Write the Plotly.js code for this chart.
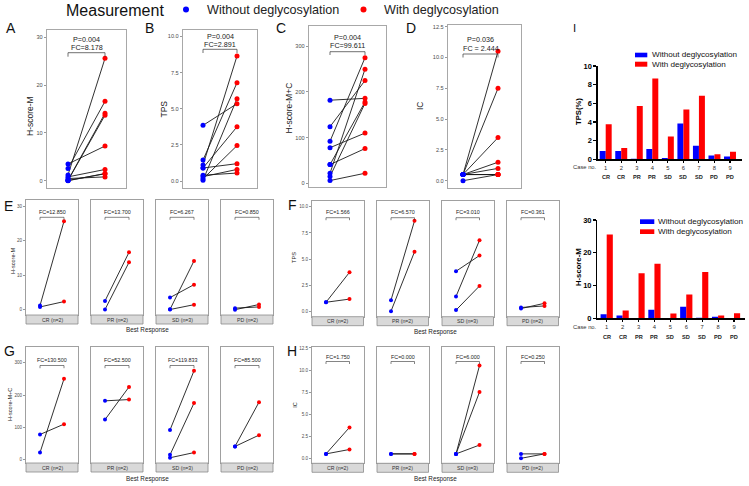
<!DOCTYPE html>
<html><head><meta charset="utf-8">
<script src="https://cdn.plot.ly/plotly-3.0.1.min.js"></script>
<style>html,body{margin:0;padding:0;background:#fff}#chart{width:749px;height:486px}</style>
</head><body><div id="chart"></div>
<script>
// ---------- data ----------
const caseNo = [1,2,3,4,5,6,7,8,9];
const response = ['CR','CR','PR','PR','SD','SD','SD','PD','PD'];
const hscoreM_without = [1.2,0.8,0.05,2.55,0.05,3.5,0.1,0.45,0.0];
const hscoreM_with    = [25.6,2.35,13.7,16.6,1.45,7.25,14.1,0.8,1.5];
const tps_without = [0.9,0.9,0.05,1.1,0.15,3.85,1.45,0.4,0.3];
const tps_with    = [3.75,1.2,5.7,8.65,2.45,5.35,6.8,0.55,0.8];
const hmc_without = [22,78,124,182,6,92,15,41,41];
const hmc_with    = [250,110,225,186,22,275,175,178,76];
const ic_without = [0.5,0.5,0.5,0.5,0.5,0.5,0.5,0.5,0.0];
const ic_with    = [3.5,1.0,0.5,0.5,1.5,10.5,7.5,0.5,0.5];
const groups = ['CR','PR','SD','PD'];
const overallP  = ['P=0.004','P=0.004','P=0.004','P=0.036'];
const overallFC = ['FC=8.178','FC=2.891','FC=99.611','FC = 2.444'];
const fcHM  = ['FC=12.850','FC=13.700','FC=6.267','FC=0.850'];
const fcTPS = ['FC=1.566','FC=6.570','FC=3.010','FC=0.361'];
const fcHMC = ['FC=130.500','FC=52.500','FC=119.833','FC=85.500'];
const fcIC  = ['FC=1.750','FC=0.000','FC=6.000','FC=0.250'];
const legendLabels = ['Without deglycosylation','With deglycosylation'];

// ---------- helpers ----------
const W=749,H=486;
const X=p=>p/W, Y=p=>1-p/H;
const BLUE='#0000ff', RED='#ff0000', FONT='Liberation Sans, Arial, sans-serif';
const layout={width:W,height:H,margin:{l:0,r:0,t:0,b:0},paper_bgcolor:'#fff',plot_bgcolor:'rgba(0,0,0,0)',
  showlegend:false,barmode:'group',bargap:0.23,bargroupgap:0,font:{family:FONT,color:'#222'},shapes:[],annotations:[]};
const data=[];
let n=0;
function rangeFrom(vA,pA,vB,pB,p0,p1){const k=(vB-vA)/(pB-pA);return [vA+(p0-pA)*k,vA+(p1-pA)*k];}
function txt(text,px,py,size,o){layout.annotations.push(Object.assign({text,x:X(px),y:Y(py),xref:'paper',yref:'paper',
  showarrow:false,font:{size,color:'#222',family:FONT},xanchor:'center',yanchor:'middle',borderpad:0},o||{}));}

function addPair(box,yA,yB,xpts,dtick,fmt,tickSize,wo,wi,msize,lw,bc){
  n++; const s=n===1?'':String(n); const xref='x'+s, yref='y'+s;
  const yr=rangeFrom(yA[0],yA[1],yB[0],yB[1],box.b,box.t);
  const xr=rangeFrom(1,xpts[0],2,xpts[1],box.l,box.r);
  layout['xaxis'+s]={domain:[X(box.l),X(box.r)],range:xr,anchor:yref,showline:true,mirror:true,linecolor:bc,linewidth:lw,
    showgrid:false,zeroline:false,showticklabels:false,ticks:'',fixedrange:true};
  layout['yaxis'+s]={domain:[Y(box.b),Y(box.t)],range:yr,anchor:xref,showline:true,mirror:true,linecolor:bc,linewidth:lw,
    showgrid:false,zeroline:false,ticks:'outside',ticklen:2,tickwidth:0.6,tickcolor:'#555',tick0:0,dtick,tickformat:fmt,
    tickfont:{size:tickSize,color:'#4d4d4d',family:FONT},fixedrange:true};
  const x=[],y=[],c=[];
  wo.forEach((v,i)=>{x.push(1,2,null);y.push(v,wi[i],null);c.push(BLUE,RED,RED);});
  data.push({type:'scatter',mode:'lines+markers',x,y,xaxis:xref,yaxis:yref,line:{color:'#1a1a1a',width:0.9},
    marker:{color:c,size:msize},cliponaxis:false,hoverinfo:'skip',showlegend:false});
  return {xref,yref,s};
}
function bracket(xref,yBar,yTick,w){
  layout.shapes.push({type:'path',xref,yref:'paper',path:`M1,${Y(yTick)} L1,${Y(yBar)} L2,${Y(yBar)} L2,${Y(yTick)}`,
    line:{color:'#333',width:w}});
}

// ---------- top legend ----------
txt('Measurement',115,10,16,{font:{size:16,color:'#111',family:FONT}});
layout.shapes.push({type:'circle',xref:'paper',yref:'paper',x0:X(183),x1:X(189),y0:Y(12.5),y1:Y(6.5),fillcolor:BLUE,line:{width:0}});
layout.shapes.push({type:'circle',xref:'paper',yref:'paper',x0:X(360.5),x1:X(366.5),y0:Y(12.5),y1:Y(6.5),fillcolor:RED,line:{width:0}});
txt(legendLabels[0],206,10,12.6,{xanchor:'left'});
txt(legendLabels[1],383,10,12.6,{xanchor:'left'});

// ---------- A-D ----------
const topPanels=[
 {wo:hscoreM_without,wi:hscoreM_with,box:{l:47,r:126,t:30,b:188},yA:[30,37.3],yB:[0,180.7],x:[68,105],dt:10,fmt:'',title:'H-score-M',tx:30,ty:116,L:'A',lx:5,pY:39,fY:47.3,bY:52.7,bT:56.7},
 {wo:tps_without,wi:tps_with,box:{l:183,r:257,t:30,b:188},yA:[10,36.5],yB:[0,181],x:[203,237],dt:2.5,fmt:'.1f',title:'TPS',tx:163.5,ty:109,L:'B',lx:144,pY:36.7,fY:44.3,bY:49.3,bT:53},
 {wo:hmc_without,wi:hmc_with,box:{l:309,r:386,t:26,b:187},yA:[300,46.3],yB:[0,183.3],x:[330,365],dt:100,fmt:'',title:'H-score-M+C',tx:288.5,ty:108,L:'C',lx:275,pY:37.7,fY:45.7,bY:51.7,bT:55},
 {wo:ic_without,wi:ic_with,box:{l:448,r:521,t:25,b:188},yA:[12.5,26.7],yB:[0,180.7],x:[463,498],dt:2.5,fmt:'.1f',title:'IC',tx:419.5,ty:105.5,L:'D',lx:405,pY:40,fY:48,bY:54,bT:57.5}
];
topPanels.forEach((p,i)=>{
  const r=addPair(p.box,p.yA,p.yB,p.x,p.dt,p.fmt,5.6,p.wo,p.wi,5,1.2,'#a8a8a8');
  const cx=(p.x[0]+p.x[1])/2;
  txt(overallP[i],cx,p.pY,7.2);
  txt(overallFC[i],cx,p.fY,7.2);
  bracket(r.xref,p.bY,p.bT,0.7);
  txt(p.title,p.tx,p.ty,8.5,{textangle:-90});
  txt(p.L,p.lx,28,14,{xanchor:'left',font:{size:14,color:'#111',family:FONT}});
});

// ---------- E-H facets ----------
const rows=[
 {wo:hscoreM_without,wi:hscoreM_with,fc:fcHM,lefts:[26,91,156,221],w:52,t:200,b:315,sb:324,yA:[30,206],yB:[0,309.7],dt:10,fmt:'',fcY:212.3,bY:217.3,bT:219.8,title:'H-score-M',tx:13,ty:261,L:'E',lx:3,ly:206,brx:147,bry:330.3},
 {wo:tps_without,wi:tps_with,fc:fcTPS,lefts:[312,377,442,507],w:51.5,t:201,b:316.7,sb:325.7,yA:[10,206.7],yB:[0,311.7],dt:2.5,fmt:'.1f',fcY:212.3,bY:217.7,bT:220.2,title:'TPS',tx:294,ty:258,L:'F',lx:287,ly:205,brx:435,bry:331.7},
 {wo:hmc_without,wi:hmc_with,fc:fcHMC,lefts:[26,91,156,221],w:52,t:347,b:463,sb:472,yA:[300,362.7],yB:[0,459.7],dt:100,fmt:'',fcY:360,bY:365.5,bT:368.2,title:'H-score-M+C',tx:10,ty:405,L:'G',lx:3,ly:351,brx:147,bry:479},
 {wo:ic_without,wi:ic_with,fc:fcIC,lefts:[312,377,442,507],w:51.5,t:347,b:463.3,sb:472.3,yA:[10,370],yB:[0,458.3],dt:2.5,fmt:'.1f',fcY:356.7,bY:361.5,bT:364,title:'IC',tx:294.7,ty:405,L:'H',lx:286,ly:351,brx:435,bry:479}
];
rows.forEach(rw=>{
  groups.forEach((g,j)=>{
    const idx=response.map((r,i)=>r===g?i:-1).filter(i=>i>=0);
    const l=rw.lefts[j], rr=l+rw.w;
    const box={l,r:rr,t:rw.t,b:rw.b};
    const r=addPair(box,rw.yA,rw.yB,[l+14,rr-14],rw.dt,rw.fmt,4.6,idx.map(i=>rw.wo[i]),idx.map(i=>rw.wi[i]),4,1,'#a0a0a0');
    if(j>0){layout['yaxis'+r.s].showticklabels=false; layout['yaxis'+r.s].ticks='';}
    layout.shapes.push({type:'rect',xref:'paper',yref:'paper',x0:X(l),x1:X(rr),y0:Y(rw.sb),y1:Y(rw.b),fillcolor:'#d9d9d9',line:{color:'#8a8a8a',width:0.8}});
    txt(`${g} (n=${idx.length})`,(l+rr)/2,(rw.b+rw.sb)/2,5.2,{font:{size:5.2,color:'#333',family:FONT}});
    txt(rw.fc[j],(l+rr)/2,rw.fcY,5.4);
    bracket(r.xref,rw.bY,rw.bT,0.6);
  });
  txt(rw.title,rw.tx,rw.ty,5.6,{textangle:-90});
  txt('Best Response',rw.brx,rw.bry,6.3);
  txt(rw.L,rw.lx,rw.ly,14,{xanchor:'left',font:{size:14,color:'#111',family:FONT}});
});

// ---------- I bar charts ----------
function addBars(box,yr,dtick,p1,p9,wo,wi,title,tx,ty,caseY,respY){
  n++; const s=String(n); const xref='x'+s, yref='y'+s;
  const xr=rangeFrom(1,p1,9,p9,box.l,box.r);
  layout['xaxis'+s]={domain:[X(box.l),X(box.r)],range:xr,anchor:yref,showline:true,linecolor:'#000',linewidth:1.3,
    ticks:'outside',ticklen:2.5,tickwidth:1.1,tickcolor:'#000',tickvals:caseNo,ticktext:caseNo.map(String),
    tickfont:{size:5.8,color:'#333',family:FONT},showgrid:false,zeroline:false,fixedrange:true};
  layout['yaxis'+s]={domain:[Y(box.b),Y(box.t)],range:yr,anchor:xref,showline:true,linecolor:'#000',linewidth:1.3,
    ticks:'outside',ticklen:3,tickwidth:1.2,tickcolor:'#000',tick0:0,dtick,tickfont:{size:7.5,color:'#000',family:FONT,weight:'bold'},
    showgrid:false,zeroline:false,fixedrange:true};
  data.push({type:'bar',x:caseNo,y:wo,xaxis:xref,yaxis:yref,marker:{color:BLUE,line:{width:0}},name:legendLabels[0],hoverinfo:'skip'});
  data.push({type:'bar',x:caseNo,y:wi,xaxis:xref,yaxis:yref,marker:{color:RED,line:{width:0}},name:legendLabels[1],hoverinfo:'skip'});
  txt(title,tx,ty,7.7,{textangle:-90,font:{size:7.7,color:'#000',family:FONT,weight:'bold'}});
  txt('Case no.',584.5,caseY,5.8,{font:{size:5.8,color:'#333',family:FONT}});
  caseNo.forEach((c,i)=>layout.annotations.push({text:response[i],x:c,y:Y(respY),xref,yref:'paper',showarrow:false,
    xanchor:'center',yanchor:'middle',font:{size:5.6,color:'#222',family:FONT,weight:'bold'}}));
}
addBars({l:597.7,r:741.7,t:66,b:159.3},[0,10],2,605.7,730,tps_without,tps_with,'TPS(%)',578,112,167.3,176.7);
addBars({l:597.3,r:745,t:220,b:318.2},[0,30],10,606.7,734,hscoreM_without,hscoreM_with,'H-score-M',578,267,327.3,337.3);
// bar legends
[[52.7,57.3,61.7,66.7,635,647.3,651,55,64.2],[219.3,224,229.3,234,640,654.3,657,221.7,231.7]].forEach(q=>{
  layout.shapes.push({type:'rect',xref:'paper',yref:'paper',x0:X(q[4]),x1:X(q[5]),y0:Y(q[1]),y1:Y(q[0]),fillcolor:BLUE,line:{width:0}});
  layout.shapes.push({type:'rect',xref:'paper',yref:'paper',x0:X(q[4]),x1:X(q[5]),y0:Y(q[3]),y1:Y(q[2]),fillcolor:RED,line:{width:0}});
  txt(legendLabels[0],q[6],q[7],8.1,{xanchor:'left',font:{size:8.1,color:'#111',family:FONT}});
  txt(legendLabels[1],q[6],q[8],8.1,{xanchor:'left',font:{size:8.1,color:'#111',family:FONT}});
});
txt('I',572,28,11.5,{xanchor:'left',font:{size:11.5,color:'#111',family:FONT}});

Plotly.newPlot('chart',data,layout,{displayModeBar:false,staticPlot:true});
</script></body></html>
